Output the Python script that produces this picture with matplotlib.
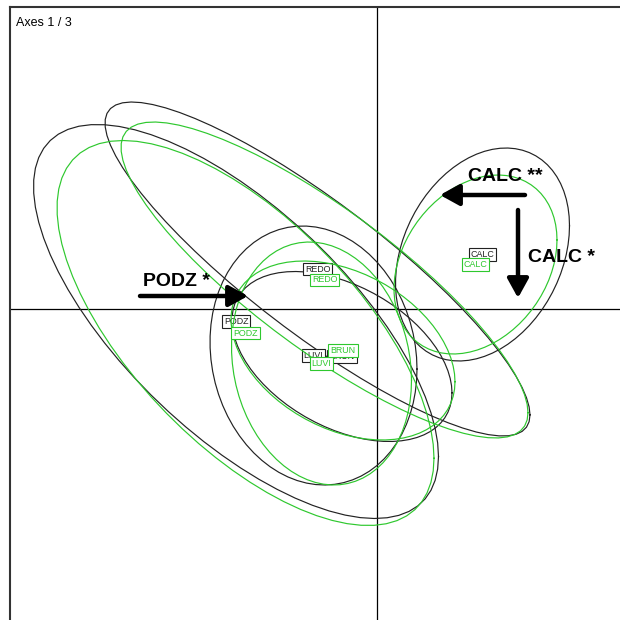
import numpy as np
import matplotlib
matplotlib.use('Agg')
import matplotlib.pyplot as plt

plt.rcParams['font.family'] = ['Liberation Sans', 'DejaVu Sans']

classes = ['PODZ', 'REDO', 'LUVI', 'BRUN', 'CALC']

# first set (black): class centres, ellipse half-extents and covariance
black_x = [-1.41, -0.595, -0.635, -0.35, 1.055]
black_y = [-0.125, 0.40, -0.465, -0.475, 0.545]
black_rx = [2.025, 2.125, 1.035, 1.10, 0.87]
black_ry = [1.97, 1.67, 1.295, 0.85, 1.065]
black_cov = [-2.735, -3.10, -0.14, -0.40, 0.25]

# second set (green)
green_x = [-1.315, -0.525, -0.555, -0.34, 0.985]
green_y = [-0.24, 0.29, -0.545, -0.415, 0.445]
green_rx = [1.885, 2.035, 0.90, 1.12, 0.815]
green_ry = [1.925, 1.58, 1.215, 0.895, 0.895]
green_cov = [-2.36, -2.70, -0.15, -0.35, 0.20]

# annotated shifts
arrow_labels = ['PODZ *', 'CALC **', 'CALC *']
arrow_start = [(-2.37, 0.13), (1.48, 1.14), (1.41, 0.99)]
arrow_end = [(-1.29, 0.13), (0.63, 1.14), (1.41, 0.11)]
label_pos = [(-2.34, 0.23), (0.91, 1.28), (1.51, 0.47)]


def ellipse(cx, cy, rx, ry, c, n=70):
    S = np.array([[rx ** 2, c], [c, ry ** 2]])
    L = np.linalg.cholesky(S)
    t = np.linspace(0, 2 * np.pi, n)
    pts = L @ np.vstack([np.cos(t), np.sin(t)])
    return cx + pts[0], cy + pts[1]


fig = plt.figure(figsize=(6.2, 6.2), dpi=100)
ax = fig.add_axes([10 / 620, 0, 610 / 620, 613 / 620])
ax.set_xlim(-3.67, 2.43)
ax.set_ylim(-3.11, 3.02)
ax.set_xticks([])
ax.set_yticks([])
for s in ['right', 'bottom']:
    ax.spines[s].set_visible(False)
for s in ['left', 'top']:
    ax.spines[s].set_linewidth(1.5)
    ax.spines[s].set_color('#333333')

ax.axhline(0, color='black', lw=0.9, zorder=1)
ax.axvline(0, color='black', lw=0.9, zorder=1)

sets = [
    (black_x, black_y, black_rx, black_ry, black_cov, '#222222'),
    (green_x, green_y, green_rx, green_ry, green_cov, '#2ec82e'),
]
z = 2
for xs, ys, rxs, rys, covs, col in sets:
    for i, name in enumerate(classes):
        ex, ey = ellipse(xs[i], ys[i], rxs[i], rys[i], covs[i])
        ax.plot(ex, ey, color=col, lw=0.85, zorder=z)
    for i, name in enumerate(classes):
        ax.text(xs[i], ys[i], name, ha='center', va='center', fontsize=6.4,
                color=col, zorder=z + 1,
                bbox=dict(boxstyle='square,pad=0.22', fc='white', ec=col, lw=0.8))
    z += 2

for lab, st, en, lp in zip(arrow_labels, arrow_start, arrow_end, label_pos):
    ax.annotate('', xy=en, xytext=st,
                arrowprops=dict(arrowstyle='-|>,head_length=0.58,head_width=0.32',
                                lw=3.2, color='black', mutation_scale=20,
                                shrinkA=0, shrinkB=0),
                zorder=10)
    ax.text(lp[0], lp[1], lab, ha='left', va='baseline', fontsize=14,
            fontweight='bold', color='black', zorder=10)

ax.text(-3.61, 2.83, 'Axes 1 / 3', ha='left', va='baseline', fontsize=9,
        color='black', zorder=10)

fig.savefig('out.png', dpi=100)
